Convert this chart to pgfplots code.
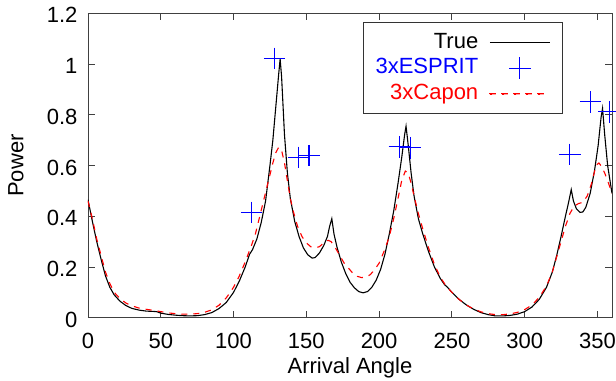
\documentclass[border=0pt]{standalone}
\usepackage{pgfplots}
\pgfplotsset{compat=1.18}
\usepackage{fontspec}
\setmainfont{Liberation Sans}
\newfontfamily\bluefont[Color=0000FF]{Liberation Sans}
\newfontfamily\redfont[Color=FF0000]{Liberation Sans}
\newcommand{\ff}{\fontsize{22bp}{26bp}\selectfont}
\begin{document}
\begin{tikzpicture}
\begin{axis}[
  name=ax,
  scale only axis,
  width=524bp, height=304.4bp,
  xmin=0, xmax=360, ymin=0, ymax=1.2,
  xtick={0,50,...,350},
  ytick={0,0.2,0.4,0.6,0.8,1.0,1.2},
  yticklabels={0,0.2,0.4,0.6,0.8,1,1.2},
  tick align=inside,
  major tick length=7bp,
  axis line style={black!75, line width=0.8bp},
  every tick/.style={black!75, line width=0.8bp},
  /pgf/number format/assume math mode=true,
  tick label style={font=\ff},
  xticklabel style={yshift=-12bp},
  yticklabel style={xshift=-7bp, yshift=-2bp},
  xlabel={Arrival Angle},
  ylabel={Power},
  every axis x label/.style={at={(axis description cs:0.5,0)}, anchor=base, yshift=-55.3bp, font=\ff},
  every axis y label/.style={at={(axis description cs:0,0.5)}, xshift=-72bp, rotate=90, anchor=center, font=\ff},
  legend plot pos=right,
  legend cell align=right,
  legend style={at={(0.906,0.971)}, anchor=north east, draw=black!80, line width=0.8bp,
    font=\ff, inner xsep=12bp, inner ysep=9.75bp,
    nodes={inner sep=0bp, text height=16bp, text depth=4.5bp},
    row sep=4bp, column sep=11bp},
]
\addplot[black, line width=1.1bp, mark=none,
  legend image code/.code={\draw[black, line width=1.1bp] (0bp,0bp) -- (60bp,0bp);}] coordinates {
(0,0.465)(3,0.38)(6,0.30)(9,0.23)(12,0.165)(15,0.12)(18,0.09)(22,0.065)(26,0.048)(30,0.037)
(35,0.030)(40,0.026)(44,0.025)(47,0.024)(50,0.018)(55,0.013)(60,0.010)(65,0.008)(70,0.007)
(75,0.008)(80,0.012)(85,0.020)(90,0.036)(95,0.060)(100,0.100)(104,0.145)(108,0.200)(111,0.250)
(113,0.268)(116,0.310)(119,0.375)(122,0.460)(125,0.600)(127,0.700)(129,0.830)(131,0.960)(132,1.02)
(133,0.95)(135,0.72)(137,0.57)(139,0.47)(142,0.38)(145,0.32)(148,0.275)(151,0.248)(154,0.235)
(156,0.237)(159,0.255)(162,0.285)(164.5,0.32)(166,0.36)(167.5,0.39)(169,0.33)(171,0.28)(174,0.22)
(177,0.175)(180,0.14)(183,0.118)(186,0.103)(189,0.098)(192,0.103)(195,0.120)(198,0.148)(201,0.19)
(204,0.25)(207,0.33)(210,0.42)(213,0.53)(215.5,0.63)(217.5,0.72)(218.5,0.755)(220,0.68)(222,0.57)
(224,0.48)(227,0.39)(230,0.33)(234,0.26)(238,0.20)(242,0.155)(245,0.130)(247,0.120)(250,0.100)
(255,0.072)(260,0.050)(265,0.033)(270,0.020)(275,0.012)(280,0.007)(285,0.007)(290,0.009)(295,0.014)
(300,0.024)(305,0.042)(310,0.072)(315,0.120)(319,0.180)(322,0.245)(325,0.320)(328,0.400)(330,0.450)
(332,0.505)(333.5,0.460)(335.5,0.430)(338,0.415)(340,0.417)(342,0.435)(345,0.49)(348,0.58)
(350.5,0.68)(352.5,0.79)(353.5,0.825)(355,0.72)(357,0.60)(360,0.49)
};
\addlegendentry{True}
\addplot[blue, only marks, mark=+, mark size=10.8bp, line width=1.1bp,
  legend image code/.code={\draw[blue, line width=1.1bp] (19.2bp,0bp) -- (40.8bp,0bp) (30bp,-10.8bp) -- (30bp,10.8bp); \path (0bp,0bp) (60bp,0bp);}] coordinates {
(112.4,0.415)(128.2,1.022)(144.9,0.632)(151.8,0.639)(213.9,0.674)(221.3,0.670)(331,0.644)(345.2,0.851)(358,0.812)
};
\addlegendentry{\bluefont 3xESPRIT}
\addplot[red, line width=1.1bp, dash pattern=on 6bp off 6bp, mark=none,
  legend image code/.code={\fill[red] (0bp,-0.65bp) rectangle (6bp,0.65bp) (12bp,-0.65bp) rectangle (18bp,0.65bp) (24bp,-0.65bp) rectangle (30bp,0.65bp) (36bp,-0.65bp) rectangle (42bp,0.65bp) (48bp,-0.65bp) rectangle (54bp,0.65bp); \path (60bp,0bp);}] coordinates {
(0,0.46)(3,0.39)(6,0.31)(9,0.245)(12,0.18)(15,0.135)(18,0.10)(22,0.075)(26,0.058)(30,0.047)
(35,0.038)(40,0.033)(45,0.029)(50,0.024)(55,0.019)(60,0.016)(65,0.014)(70,0.014)(75,0.016)
(80,0.021)(85,0.031)(90,0.049)(95,0.078)(100,0.12)(104,0.165)(108,0.22)(112,0.28)(115,0.33)
(118,0.40)(121,0.47)(124,0.54)(127,0.61)(129,0.65)(131,0.672)(133,0.66)(135,0.61)(137,0.54)
(139,0.47)(141,0.42)(144,0.36)(147,0.32)(150,0.295)(153,0.28)(156,0.275)(159,0.28)(162,0.295)
(165,0.305)(167,0.30)(170,0.275)(173,0.245)(176,0.215)(179,0.195)(182,0.175)(185,0.163)(188,0.158)
(191,0.160)(194,0.17)(197,0.19)(200,0.215)(204,0.27)(207,0.32)(210,0.39)(213,0.47)(215.5,0.54)
(218,0.578)(220,0.57)(222,0.53)(224,0.48)(227,0.41)(230,0.35)(234,0.275)(238,0.21)(242,0.16)
(246,0.125)(250,0.10)(255,0.072)(260,0.050)(265,0.034)(270,0.023)(275,0.016)(280,0.012)(285,0.012)
(290,0.015)(295,0.021)(300,0.032)(305,0.050)(310,0.080)(315,0.125)(319,0.18)(322,0.24)(325,0.30)
(328,0.36)(331,0.41)(334,0.44)(337,0.45)(340,0.455)(343,0.48)(346,0.53)(349,0.60)(351,0.61)
(353,0.595)(355,0.57)(357,0.54)(360,0.49)
};
\addlegendentry{\redfont 3xCapon}
\end{axis}
\pgfresetboundingbox
\path[use as bounding box] ([xshift=-88bp,yshift=-63.3bp]ax.south west) rectangle ([xshift=4bp,yshift=13.3bp]ax.north east);
\end{tikzpicture}
\end{document}
